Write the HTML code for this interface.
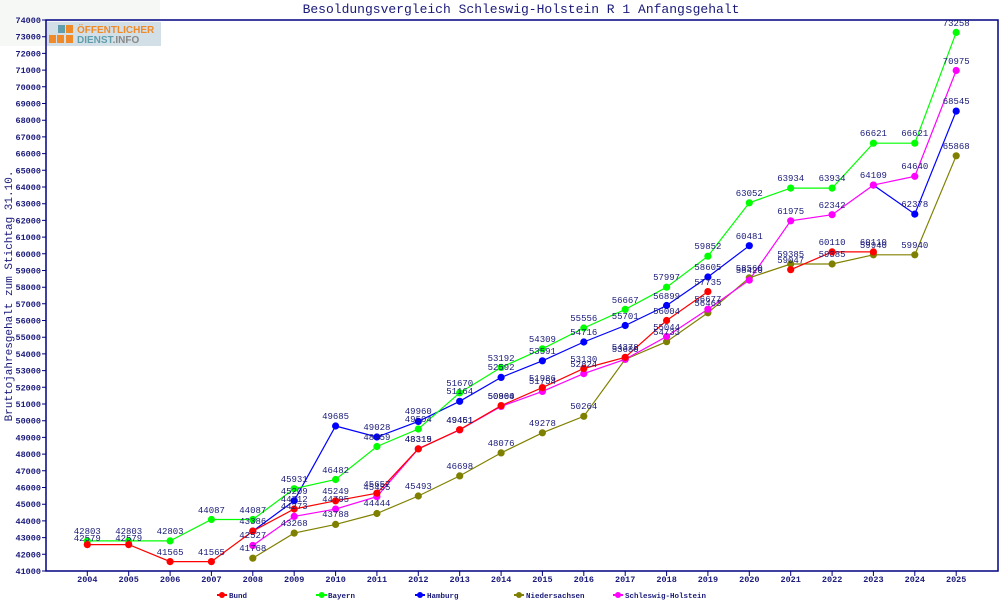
<!DOCTYPE html>
<html><head><meta charset="utf-8"><style>
body{margin:0;background:#fff;}
svg{display:block;font-family:"Liberation Mono",monospace;}
.v{font-size:9px;fill:#1a1a7a;text-anchor:middle;}
.t{font-size:8.5px;font-weight:bold;fill:#1a1a7a;}
.l{font-size:7.5px;font-weight:bold;fill:#1a1a7a;}
</style></head><body>
<svg width="1000" height="600" viewBox="0 0 1000 600" xmlns="http://www.w3.org/2000/svg">
<rect x="0" y="0" width="160" height="46" fill="#f6f8f6"/>
<text x="521" y="13" font-size="13" fill="#1a1a7a" text-anchor="middle">Besoldungsvergleich Schleswig-Holstein R 1 Anfangsgehalt</text>
<rect x="46" y="20" width="952" height="551" fill="none" stroke="#000080" stroke-width="1.5"/>
<rect x="47" y="22" width="114" height="24" fill="#d3dfe6"/>
<rect x="58" y="25" width="7" height="8" fill="#5f9fad"/>
<rect x="66" y="25" width="7" height="8" fill="#f08a28"/>
<rect x="49" y="35" width="7" height="8" fill="#f08a28"/><rect x="57" y="35" width="7" height="8" fill="#f08a28"/><rect x="66" y="35" width="7" height="8" fill="#f08a28"/>
<text x="77" y="33" font-family="Liberation Sans,sans-serif" font-weight="bold" font-size="10" fill="#f08a28">ÖFFENTLICHER</text>
<text x="77" y="43" font-family="Liberation Sans,sans-serif" font-weight="bold" font-size="10" fill="#5f9fad">DIENST<tspan fill="#888">.INFO</tspan></text>
<g stroke="#000080" stroke-width="1">
<path d="M42 20H46M42 36.7H46M42 53.4H46M42 70.1H46M42 86.8H46M42 103.5H46M42 120.2H46M42 136.9H46M42 153.6H46M42 170.3H46M42 187H46M42 203.7H46M42 220.4H46M42 237.1H46M42 253.8H46M42 270.5H46M42 287.2H46M42 303.8H46M42 320.5H46M42 337.2H46M42 353.9H46M42 370.6H46M42 387.3H46M42 404H46M42 420.7H46M42 437.4H46M42 454.1H46M42 470.8H46M42 487.5H46M42 504.2H46M42 520.9H46M42 537.6H46M42 554.3H46M42 571H46"/>
<path d="M87.3 571V576M128.7 571V576M170.1 571V576M211.4 571V576M252.8 571V576M294.2 571V576M335.6 571V576M376.9 571V576M418.3 571V576M459.7 571V576M501.1 571V576M542.4 571V576M583.8 571V576M625.2 571V576M666.6 571V576M707.9 571V576M749.3 571V576M790.7 571V576M832.1 571V576M873.4 571V576M914.8 571V576M956.2 571V576"/>
</g>
<g class="t" text-anchor="end">
<text x="41" y="23">74000</text><text x="41" y="39.7">73000</text><text x="41" y="56.4">72000</text><text x="41" y="73.1">71000</text><text x="41" y="89.8">70000</text><text x="41" y="106.5">69000</text><text x="41" y="123.2">68000</text><text x="41" y="139.9">67000</text><text x="41" y="156.6">66000</text><text x="41" y="173.3">65000</text><text x="41" y="190">64000</text><text x="41" y="206.7">63000</text><text x="41" y="223.4">62000</text><text x="41" y="240.1">61000</text><text x="41" y="256.8">60000</text><text x="41" y="273.5">59000</text><text x="41" y="290.2">58000</text><text x="41" y="306.8">57000</text><text x="41" y="323.5">56000</text><text x="41" y="340.2">55000</text><text x="41" y="356.9">54000</text><text x="41" y="373.6">53000</text><text x="41" y="390.3">52000</text><text x="41" y="407">51000</text><text x="41" y="423.7">50000</text><text x="41" y="440.4">49000</text><text x="41" y="457.1">48000</text><text x="41" y="473.8">47000</text><text x="41" y="490.5">46000</text><text x="41" y="507.2">45000</text><text x="41" y="523.9">44000</text><text x="41" y="540.6">43000</text><text x="41" y="557.3">42000</text><text x="41" y="574">41000</text>
</g>
<g class="t" text-anchor="middle">
<text x="87.3" y="582">2004</text><text x="128.7" y="582">2005</text><text x="170.1" y="582">2006</text><text x="211.4" y="582">2007</text><text x="252.8" y="582">2008</text><text x="294.2" y="582">2009</text><text x="335.6" y="582">2010</text><text x="376.9" y="582">2011</text><text x="418.3" y="582">2012</text><text x="459.7" y="582">2013</text><text x="501.1" y="582">2014</text><text x="542.4" y="582">2015</text><text x="583.8" y="582">2016</text><text x="625.2" y="582">2017</text><text x="666.6" y="582">2018</text><text x="707.9" y="582">2019</text><text x="749.3" y="582">2020</text><text x="790.7" y="582">2021</text><text x="832.1" y="582">2022</text><text x="873.4" y="582">2023</text><text x="914.8" y="582">2024</text><text x="956.2" y="582">2025</text>
</g>
<text transform="translate(12,296) rotate(-90)" font-size="11" fill="#1a1a7a" text-anchor="middle">Bruttojahresgehalt zum Stichtag 31.10.</text>
<g fill="none" stroke-width="1.2">
<polyline stroke="#808000" points="252.8,558.2 294.2,533.1 335.6,524.4 376.9,513.5 418.3,496 459.7,475.9 501.1,452.9 542.4,432.8 583.8,416.3 625.2,359.3 666.6,341.7 707.9,312.8 749.3,277.8 790.7,264 832.1,264 873.4,254.8 914.8,254.8 956.2,155.8"/>
<polyline stroke="#ff00ff" points="252.8,545.5 294.2,516.4 335.6,509.1 376.9,496.6 418.3,448.8 459.7,429.9 501.1,406.4 542.4,391.4 583.8,373.6 625.2,359.3 666.6,336.5 707.9,309.2 749.3,280.1 790.7,220.8 832.1,214.7 873.4,185.1 914.8,176.3 956.2,70.5"/>
<polyline stroke="#0000ff" points="252.8,531.1 294.2,500.7 335.6,426 376.9,437 418.3,421.4 459.7,401.3 501.1,377.4 542.4,360.8 583.8,342 625.2,325.5 666.6,305.5 707.9,277 749.3,245.7"/>
<polyline stroke="#0000ff" points="873.4,185.1 914.8,214.1 956.2,111.1"/>
<polyline stroke="#00ff00" points="87.3,540.9 128.7,540.9 170.1,540.9 211.4,519.5 252.8,519.5 294.2,488.7 335.6,479.5 376.9,446.5 418.3,429 459.7,392.8 501.1,367.4 542.4,348.8 583.8,328 625.2,309.4 666.6,287.2 707.9,256.2 749.3,202.8 790.7,188.1 832.1,188.1 873.4,143.2 914.8,143.2 956.2,32.4"/>
<polyline stroke="#ff0000" points="87.3,544.6 128.7,544.6 170.1,561.6 211.4,561.6 252.8,531.1 294.2,509 335.6,500.8 376.9,493.2 418.3,448.9 459.7,429.7 501.1,405.6 542.4,387.6 583.8,368.5 625.2,357.3 666.6,320.5 707.9,291.6"/>
<polyline stroke="#ff0000" points="790.7,269.7 832.1,251.9 873.4,251.9"/>
</g>
<g stroke-width="0">
<g fill="#808000"><circle cx="252.8" cy="558.2" r="3.6"/><circle cx="294.2" cy="533.1" r="3.6"/><circle cx="335.6" cy="524.4" r="3.6"/><circle cx="376.9" cy="513.5" r="3.6"/><circle cx="418.3" cy="496" r="3.6"/><circle cx="459.7" cy="475.9" r="3.6"/><circle cx="501.1" cy="452.9" r="3.6"/><circle cx="542.4" cy="432.8" r="3.6"/><circle cx="583.8" cy="416.3" r="3.6"/><circle cx="625.2" cy="359.3" r="3.6"/><circle cx="666.6" cy="341.7" r="3.6"/><circle cx="707.9" cy="312.8" r="3.6"/><circle cx="749.3" cy="277.8" r="3.6"/><circle cx="790.7" cy="264" r="3.6"/><circle cx="832.1" cy="264" r="3.6"/><circle cx="873.4" cy="254.8" r="3.6"/><circle cx="914.8" cy="254.8" r="3.6"/><circle cx="956.2" cy="155.8" r="3.6"/></g>
<g fill="#ff00ff"><circle cx="252.8" cy="545.5" r="3.6"/><circle cx="294.2" cy="516.4" r="3.6"/><circle cx="335.6" cy="509.1" r="3.6"/><circle cx="376.9" cy="496.6" r="3.6"/><circle cx="418.3" cy="448.8" r="3.6"/><circle cx="459.7" cy="429.9" r="3.6"/><circle cx="501.1" cy="406.4" r="3.6"/><circle cx="542.4" cy="391.4" r="3.6"/><circle cx="583.8" cy="373.6" r="3.6"/><circle cx="625.2" cy="359.3" r="3.6"/><circle cx="666.6" cy="336.5" r="3.6"/><circle cx="707.9" cy="309.2" r="3.6"/><circle cx="749.3" cy="280.1" r="3.6"/><circle cx="790.7" cy="220.8" r="3.6"/><circle cx="832.1" cy="214.7" r="3.6"/><circle cx="873.4" cy="185.1" r="3.6"/><circle cx="914.8" cy="176.3" r="3.6"/><circle cx="956.2" cy="70.5" r="3.6"/></g>
<g fill="#0000ff"><circle cx="252.8" cy="531.1" r="3.6"/><circle cx="294.2" cy="500.7" r="3.6"/><circle cx="335.6" cy="426" r="3.6"/><circle cx="376.9" cy="437" r="3.6"/><circle cx="418.3" cy="421.4" r="3.6"/><circle cx="459.7" cy="401.3" r="3.6"/><circle cx="501.1" cy="377.4" r="3.6"/><circle cx="542.4" cy="360.8" r="3.6"/><circle cx="583.8" cy="342" r="3.6"/><circle cx="625.2" cy="325.5" r="3.6"/><circle cx="666.6" cy="305.5" r="3.6"/><circle cx="707.9" cy="277" r="3.6"/><circle cx="749.3" cy="245.7" r="3.6"/><circle cx="914.8" cy="214.1" r="3.6"/><circle cx="956.2" cy="111.1" r="3.6"/></g>
<g fill="#00ff00"><circle cx="87.3" cy="540.9" r="3.6"/><circle cx="128.7" cy="540.9" r="3.6"/><circle cx="170.1" cy="540.9" r="3.6"/><circle cx="211.4" cy="519.5" r="3.6"/><circle cx="252.8" cy="519.5" r="3.6"/><circle cx="294.2" cy="488.7" r="3.6"/><circle cx="335.6" cy="479.5" r="3.6"/><circle cx="376.9" cy="446.5" r="3.6"/><circle cx="418.3" cy="429" r="3.6"/><circle cx="459.7" cy="392.8" r="3.6"/><circle cx="501.1" cy="367.4" r="3.6"/><circle cx="542.4" cy="348.8" r="3.6"/><circle cx="583.8" cy="328" r="3.6"/><circle cx="625.2" cy="309.4" r="3.6"/><circle cx="666.6" cy="287.2" r="3.6"/><circle cx="707.9" cy="256.2" r="3.6"/><circle cx="749.3" cy="202.8" r="3.6"/><circle cx="790.7" cy="188.1" r="3.6"/><circle cx="832.1" cy="188.1" r="3.6"/><circle cx="873.4" cy="143.2" r="3.6"/><circle cx="914.8" cy="143.2" r="3.6"/><circle cx="956.2" cy="32.4" r="3.6"/></g>
<g fill="#ff0000"><circle cx="87.3" cy="544.6" r="3.6"/><circle cx="128.7" cy="544.6" r="3.6"/><circle cx="170.1" cy="561.6" r="3.6"/><circle cx="211.4" cy="561.6" r="3.6"/><circle cx="252.8" cy="531.1" r="3.6"/><circle cx="294.2" cy="509" r="3.6"/><circle cx="335.6" cy="500.8" r="3.6"/><circle cx="376.9" cy="493.2" r="3.6"/><circle cx="418.3" cy="448.9" r="3.6"/><circle cx="459.7" cy="429.7" r="3.6"/><circle cx="501.1" cy="405.6" r="3.6"/><circle cx="542.4" cy="387.6" r="3.6"/><circle cx="583.8" cy="368.5" r="3.6"/><circle cx="625.2" cy="357.3" r="3.6"/><circle cx="666.6" cy="320.5" r="3.6"/><circle cx="707.9" cy="291.6" r="3.6"/><circle cx="790.7" cy="269.7" r="3.6"/><circle cx="832.1" cy="251.9" r="3.6"/><circle cx="873.4" cy="251.9" r="3.6"/></g>
<circle cx="873.4" cy="185.1" r="3.6" fill="#ff00ff"/>
</g>
<g class="v">
<text x="252.8" y="551">41768</text><text x="294.2" y="526">43268</text><text x="335.6" y="517">43788</text><text x="376.9" y="506">44444</text><text x="418.3" y="489">45493</text><text x="459.7" y="469">46698</text><text x="501.1" y="446">48076</text><text x="542.4" y="426">49278</text><text x="583.8" y="409">50264</text><text x="625.2" y="352">53680</text><text x="666.6" y="335">54733</text><text x="707.9" y="306">56463</text><text x="749.3" y="271">58560</text><text x="790.7" y="257">59385</text><text x="832.1" y="257">59385</text><text x="873.4" y="248">59940</text><text x="914.8" y="248">59940</text><text x="956.2" y="149">65868</text>
<text x="252.8" y="538">42527</text><text x="294.2" y="509">44273</text><text x="335.6" y="502">44705</text><text x="376.9" y="490">45455</text><text x="418.3" y="442">48319</text><text x="459.7" y="423">49451</text><text x="501.1" y="399">50860</text><text x="542.4" y="384">51754</text><text x="583.8" y="367">52824</text><text x="666.6" y="330">55044</text><text x="707.9" y="302">56677</text><text x="749.3" y="273">58420</text><text x="790.7" y="214">61975</text><text x="832.1" y="208">62342</text><text x="873.4" y="178">64109</text><text x="914.8" y="169">64640</text><text x="956.2" y="64">70975</text>
<text x="252.8" y="524">43386</text><text x="294.2" y="494">45209</text><text x="335.6" y="419">49685</text><text x="376.9" y="430">49028</text><text x="418.3" y="414">49960</text><text x="459.7" y="394">51164</text><text x="501.1" y="370">52592</text><text x="542.4" y="354">53591</text><text x="583.8" y="335">54716</text><text x="625.2" y="319">55701</text><text x="666.6" y="299">56899</text><text x="707.9" y="270">58605</text><text x="749.3" y="239">60481</text><text x="914.8" y="207">62378</text><text x="956.2" y="104">68545</text>
<text x="87.3" y="534">42803</text><text x="128.7" y="534">42803</text><text x="170.1" y="534">42803</text><text x="211.4" y="513">44087</text><text x="252.8" y="513">44087</text><text x="294.2" y="482">45931</text><text x="335.6" y="473">46482</text><text x="376.9" y="440">48459</text><text x="418.3" y="422">49504</text><text x="459.7" y="386">51670</text><text x="501.1" y="361">53192</text><text x="542.4" y="342">54309</text><text x="583.8" y="321">55556</text><text x="625.2" y="303">56667</text><text x="666.6" y="280">57997</text><text x="707.9" y="249">59852</text><text x="749.3" y="196">63052</text><text x="790.7" y="181">63934</text><text x="832.1" y="181">63934</text><text x="873.4" y="136">66621</text><text x="914.8" y="136">66621</text><text x="956.2" y="26">73258</text>
<text x="87.3" y="541">42579</text><text x="128.7" y="541">42579</text><text x="170.1" y="555">41565</text><text x="211.4" y="555">41565</text><text x="294.2" y="502">44712</text><text x="335.6" y="494">45249</text><text x="376.9" y="487">45657</text><text x="418.3" y="442">48315</text><text x="459.7" y="423">49461</text><text x="501.1" y="399">50904</text><text x="542.4" y="381">51986</text><text x="583.8" y="362">53130</text><text x="625.2" y="350">54378</text><text x="666.6" y="314">56004</text><text x="707.9" y="285">57735</text><text x="790.7" y="263">59047</text><text x="832.1" y="245">60110</text><text x="873.4" y="245">60110</text>
</g>
<g stroke-width="2">
<line x1="217" y1="595" x2="227" y2="595" stroke="#ff0000"/><circle cx="222" cy="595" r="3" fill="#ff0000"/>
<line x1="316" y1="595" x2="327" y2="595" stroke="#00ff00"/><circle cx="321.7" cy="595" r="3" fill="#00ff00"/>
<line x1="415" y1="595" x2="425" y2="595" stroke="#0000ff"/><circle cx="420" cy="595" r="3" fill="#0000ff"/>
<line x1="514" y1="595" x2="524" y2="595" stroke="#808000"/><circle cx="519" cy="595" r="3" fill="#808000"/>
<line x1="613" y1="595" x2="623" y2="595" stroke="#ff00ff"/><circle cx="618" cy="595" r="3" fill="#ff00ff"/>
</g>
<g class="l">
<text x="229" y="598">Bund</text><text x="328" y="598">Bayern</text><text x="427" y="598">Hamburg</text><text x="526" y="598">Niedersachsen</text><text x="625" y="598">Schleswig-Holstein</text>
</g>
</svg>
</body></html>
